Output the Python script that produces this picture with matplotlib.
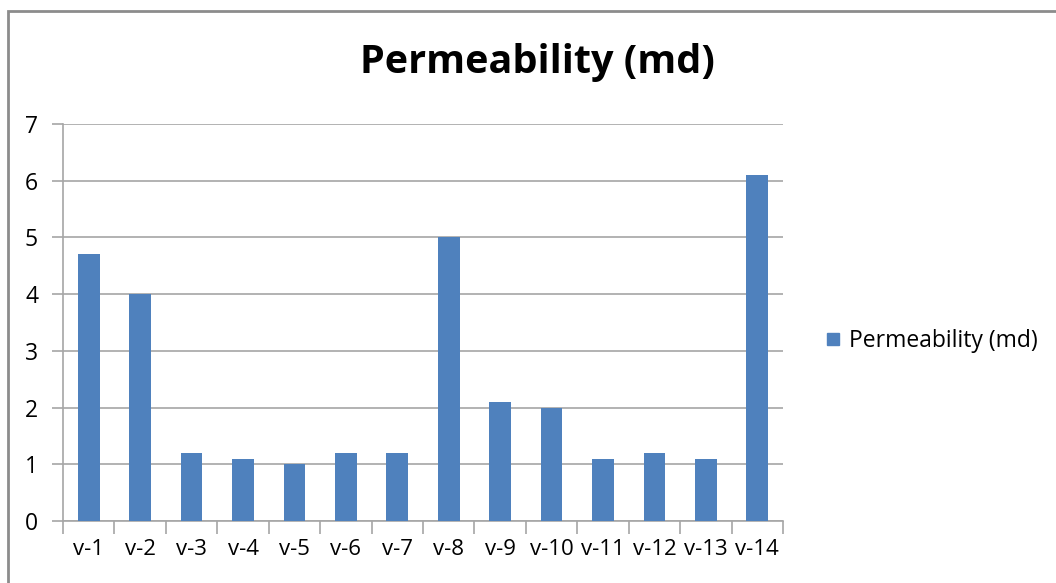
import matplotlib.pyplot as plt
from matplotlib.lines import Line2D
from matplotlib.patches import Rectangle

wells = ['v-1', 'v-2', 'v-3', 'v-4', 'v-5', 'v-6', 'v-7',
         'v-8', 'v-9', 'v-10', 'v-11', 'v-12', 'v-13', 'v-14']
permeability = [4.7, 4.0, 1.2, 1.1, 1.0, 1.2, 1.2,
                5.0, 2.1, 2.0, 1.1, 1.2, 1.1, 6.1]
series_name = 'Permeability (md)'

bar_color = '#4F81BD'
grid_color = '#A6A6A6'
plt.rcParams['font.family'] = ['Open Sans', 'DejaVu Sans']

fig = plt.figure(figsize=(10.56, 5.83), dpi=100)
ax = fig.add_axes([63 / 1056, 1 - 521 / 583, 720 / 1056, 397 / 583])

# chart border
fig.patches.append(Rectangle((8 / 1056, -0.05), 1.1, 1 - 11 / 583 + 0.05,
                             transform=fig.transFigure, fill=False,
                             edgecolor='#8C8C8C', linewidth=2))

x = range(len(wells))
ax.bar(x, permeability, width=0.42, color=bar_color, zorder=3)

ax.set_xlim(-0.5, len(wells) - 0.5)
ax.set_ylim(0, 7)
ax.set_yticks(range(0, 8))
ax.yaxis.grid(True, color=grid_color, linewidth=1.2, zorder=0)

# category ticks sit between bars
ax.set_xticks([i - 0.5 for i in range(len(wells) + 1)], minor=False)
ax.set_xticklabels([])
ax.set_xticks(list(x), minor=True)
ax.set_xticklabels(wells, minor=True, fontsize=16)
ax.tick_params(axis='x', which='major', length=9, color=grid_color, width=1.2)
ax.tick_params(axis='x', which='minor', length=0, pad=13)
ax.tick_params(axis='y', length=8, color=grid_color, width=1.2, labelsize=16.5, pad=10)

for side in ['top', 'right']:
    ax.spines[side].set_visible(False)
for side in ['left', 'bottom']:
    ax.spines[side].set_color(grid_color)
    ax.spines[side].set_linewidth(1.2)

fig.text(537 / 1056, 1 - 63 / 583, series_name, ha='center', va='center',
         fontsize=28.5, fontweight='bold')

handle = Line2D([], [], marker='s', linestyle='none', markersize=9,
                color=bar_color)
fig.legend([handle], [series_name], loc='center left',
           bbox_to_anchor=(801 / 1056, 1 - 341 / 583), frameon=False,
           fontsize=16.5, handletextpad=0.2, handlelength=1.0)

fig.savefig('out.png', dpi=100)
